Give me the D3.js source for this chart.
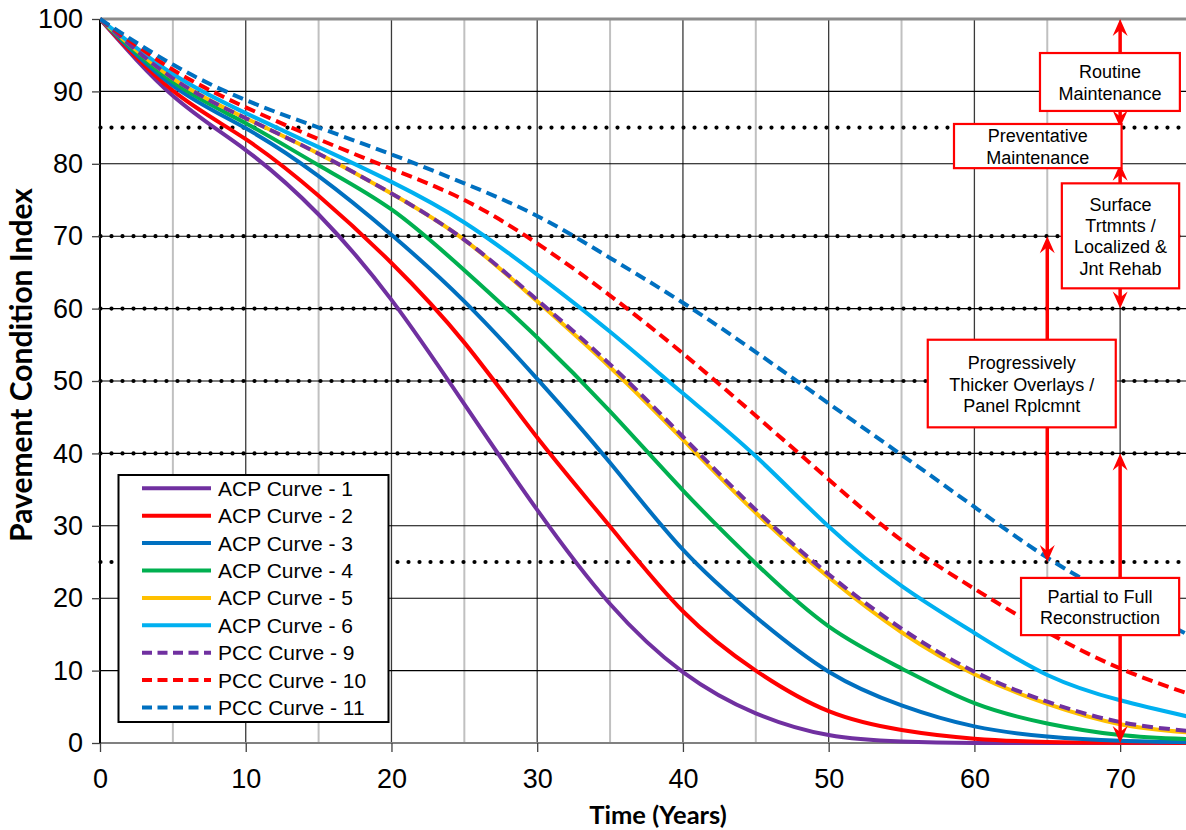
<!DOCTYPE html>
<html><head><meta charset="utf-8">
<script src="https://cdn.jsdelivr.net/npm/d3@7"></script>
<style>body{margin:0;background:#fff}svg{display:block}</style>
</head><body><svg id="c" width="1186" height="830"></svg>
<script>
// ---------- data ----------
const years = [0, 5, 10, 15, 20, 25, 30, 35, 40, 45, 50, 55, 60, 65, 70, 75];
const acp1  = [100, 89.4, 81.9, 73.0, 61.2, 46.8, 32.2, 19.2, 9.8, 4.1, 1.1, 0.2, 0.0, 0.0, 0.0, 0.0];
const acp2  = [100, 90.1, 83.4, 75.6, 66.3, 55.3, 42.2, 29.9, 18.2, 10.0, 4.4, 1.8, 0.6, 0.15, 0.05, 0.0];
const acp3  = [100, 90.8, 84.9, 78.3, 70.2, 61.0, 50.3, 38.7, 26.7, 17.4, 9.85, 5.2, 2.3, 0.9, 0.3, 0.1];
const acp4  = [100, 91.3, 85.6, 79.8, 73.7, 65.3, 56.0, 45.8, 34.9, 24.8, 16.1, 10.3, 5.5, 2.7, 1.1, 0.5];
const acp5  = [100, 91.8, 86.3, 81.4, 75.9, 69.5, 61.0, 51.9, 41.9, 31.8, 22.9, 15.3, 9.5, 5.4, 2.6, 1.4];
const acp6  = [100, 92.4, 87.0, 82.3, 77.5, 71.9, 64.7, 56.8, 48.3, 39.6, 29.9, 21.7, 15.2, 9.4, 5.9, 3.5];
const pcc9  = [100, 91.8, 86.3, 81.4, 75.9, 69.5, 61.2, 52.3, 42.3, 32.2, 23.3, 15.8, 9.85, 5.7, 2.9, 1.6];
const pcc10 = [100, 93.0, 87.8, 83.4, 79.3, 75.0, 69.0, 61.8, 53.8, 45.2, 36.4, 28.0, 21.3, 15.3, 10.3, 6.6];
const pcc11 = [100, 93.7, 88.8, 85.0, 81.3, 77.3, 72.8, 67.0, 60.8, 54.0, 46.9, 39.8, 32.6, 25.6, 19.8, 14.6];

const seriesNames = ["ACP Curve - 1", "ACP Curve - 2", "ACP Curve - 3", "ACP Curve - 4", "ACP Curve - 5",
                     "ACP Curve - 6", "PCC Curve - 9", "PCC Curve - 10", "PCC Curve - 11"];
const seriesValues = [acp1, acp2, acp3, acp4, acp5, acp6, pcc9, pcc10, pcc11];

const xTicks = [0, 10, 20, 30, 40, 50, 60, 70];
const xMinorGrid = [5, 15, 25, 35, 45, 55, 65];
const yTicks = [0, 10, 20, 30, 40, 50, 60, 70, 80, 90, 100];
const thresholdLevels = [85, 70, 60, 50, 40, 25];

const annoTexts = [
  ["Routine", "Maintenance"],
  ["Preventative", "Maintenance"],
  ["Surface", "Trtmnts /", "Localized &", "Jnt Rehab"],
  ["Progressively", "Thicker Overlays /", "Panel Rplcmnt"],
  ["Partial to Full", "Reconstruction"]
];
// arrows: year, from PCI, to PCI
const arrowYears = [70, 70, 65, 70];
const arrowFrom  = [100, 80, 70, 40];
const arrowTo    = [85, 60, 25, 0];

// ---------- styles / layout ----------
const seriesColors = ["#7030A0", "#FF0000", "#0070C0", "#00B050", "#FFC000", "#00B0F0", "#7030A0", "#FF0000", "#0070C0"];
const seriesDashed = [false, false, false, false, false, false, true, true, true];
// annotation boxes in data units: [year0, year1, pciTop, pciBottom]
const annoBoxes = [
  [64.5, 74.1, 95.3, 87.3],
  [58.6, 70.1, 85.5, 79.4],
  [66.0, 74.05, 77.3, 62.8],
  [56.8, 69.7, 55.7, 43.6],
  [63.2, 74.05, 22.8, 14.9]
];

const W = 1186, H = 830;
const pL = 100, pR = 1193, pT = 19, pB = 743;
const svg = d3.select("#c");
const x = d3.scaleLinear().domain([0, 75]).range([pL, pR]);
const y = d3.scaleLinear().domain([0, 100]).range([pB, pT]);

svg.append("defs").append("clipPath").attr("id", "clip")
  .append("rect").attr("x", pL).attr("y", pT - 5).attr("width", W - pL).attr("height", pB - pT + 7);

const g = svg.append("g");

g.selectAll(".vminor").data(xMinorGrid).enter().append("line")
  .attr("x1", d => x(d)).attr("x2", d => x(d)).attr("y1", pT).attr("y2", pB)
  .attr("stroke", "#c0c0c0").attr("stroke-width", 2);
g.selectAll(".vmajor").data(xTicks.filter(d => d > 0)).enter().append("line")
  .attr("x1", d => x(d)).attr("x2", d => x(d)).attr("y1", pT).attr("y2", pB)
  .attr("stroke", "#3a3a3a").attr("stroke-width", 1.3);
g.selectAll(".hgrid").data(yTicks.filter(d => d > 0 && d < 100)).enter().append("line")
  .attr("x1", pL).attr("x2", W).attr("y1", d => y(d)).attr("y2", d => y(d))
  .attr("stroke", "#000").attr("stroke-width", 1.1);
g.append("line").attr("x1", pL).attr("x2", W).attr("y1", y(100)).attr("y2", y(100))
  .attr("stroke", "#8c8c8c").attr("stroke-width", 3);

g.selectAll(".dot").data(thresholdLevels).enter().append("line")
  .attr("x1", pL + 0.5).attr("x2", W).attr("y1", d => y(d)).attr("y2", d => y(d))
  .attr("stroke", "#000").attr("stroke-width", 4.2).attr("stroke-linecap", "round")
  .attr("stroke-dasharray", "0 11");

const xAxis = d3.axisBottom(x).tickValues(xTicks).tickSize(9).tickPadding(17).tickFormat(d3.format("d"));
const gx = svg.append("g").attr("transform", `translate(0,${pB})`).call(xAxis);
gx.select(".domain").attr("stroke", "#808080").attr("stroke-width", 2.2).attr("d", `M${pL},0H${W}`);
gx.selectAll(".tick line").attr("stroke", "#404040").attr("stroke-width", 1.3);
gx.selectAll(".tick text").attr("font-family", "Liberation Sans, Arial, sans-serif").attr("font-size", 27).attr("fill", "#000");

const yAxis = d3.axisLeft(y).tickValues(yTicks).tickSize(8).tickPadding(9).tickFormat(d3.format("d"));
const gy = svg.append("g").attr("transform", `translate(${pL},0)`).call(yAxis);
gy.select(".domain").attr("stroke", "#000").attr("stroke-width", 2).attr("d", `M0,${pB}V${pT}`);
gy.selectAll(".tick line").attr("stroke", "#404040").attr("stroke-width", 1.3);
gy.selectAll(".tick text").attr("font-family", "Liberation Sans, Arial, sans-serif").attr("font-size", 27).attr("fill", "#000");

const lineGen = d3.line().x((d, i) => x(years[i])).y(d => y(d)).curve(d3.curveNatural);
const curves = svg.append("g").attr("clip-path", "url(#clip)");
seriesValues.forEach((vals, i) => {
  curves.append("path").attr("d", lineGen(vals)).attr("fill", "none")
    .attr("stroke", seriesColors[i]).attr("stroke-width", 4)
    .attr("stroke-dasharray", seriesDashed[i] ? "11 6" : null);
});

const ag = svg.append("g");
function head(xp, yp, dir) {
  const L = 17, Wd = 7.5, n = 11;
  return `M${xp},${yp}L${xp - Wd},${yp - dir * L}L${xp},${yp - dir * n}L${xp + Wd},${yp - dir * L}Z`;
}
arrowYears.forEach((t, i) => {
  const xp = x(t), y0 = y(arrowFrom[i]), y1 = y(arrowTo[i]);
  ag.append("line").attr("x1", xp).attr("x2", xp).attr("y1", y0 + 10).attr("y2", y1 - 10)
    .attr("stroke", "#FF0000").attr("stroke-width", 3.5);
  ag.append("path").attr("d", head(xp, y0, -1)).attr("fill", "#FF0000");
  ag.append("path").attr("d", head(xp, y1, 1)).attr("fill", "#FF0000");
});

annoBoxes.forEach((b, i) => {
  const x0 = x(b[0]), x1 = x(b[1]), y0 = y(b[2]), y1 = y(b[3]);
  const bg = svg.append("g");
  bg.append("rect").attr("x", x0).attr("y", y0).attr("width", x1 - x0).attr("height", y1 - y0)
    .attr("fill", "#fff").attr("stroke", "#FF0000").attr("stroke-width", 2.2);
  const cx = (x0 + x1) / 2, cy = (y0 + y1) / 2, lines = annoTexts[i], lh = 21.3;
  lines.forEach((t, k) => {
    bg.append("text").attr("x", cx).attr("y", cy + (k - (lines.length - 1) / 2) * lh + 7)
      .attr("text-anchor", "middle").attr("font-family", "Liberation Sans, Arial, sans-serif")
      .attr("font-size", 18).attr("fill", "#000").text(t);
  });
});

const lg = svg.append("g");
lg.append("rect").attr("x", 118.5).attr("y", 475).attr("width", 270).attr("height", 247)
  .attr("fill", "#fff").attr("stroke", "#000").attr("stroke-width", 2);
seriesNames.forEach((name, i) => {
  const yy = 488.3 + i * 27.4;
  lg.append("line").attr("x1", 142).attr("x2", 211).attr("y1", yy).attr("y2", yy)
    .attr("stroke", seriesColors[i]).attr("stroke-width", 4)
    .attr("stroke-dasharray", seriesDashed[i] ? "10 5.5" : null);
  lg.append("text").attr("x", 218).attr("y", yy + 7.5)
    .attr("font-family", "Liberation Sans, Arial, sans-serif").attr("font-size", 21).attr("fill", "#000").text(name);
});

svg.append("text").attr("x", 658).attr("y", 824).attr("text-anchor", "middle")
  .attr("font-family", "Lato, Carlito, sans-serif").attr("font-weight", "bold").attr("font-size", 25.5)
  .attr("fill", "#000").text("Time (Years)");
svg.append("text").attr("transform", `translate(32,365) rotate(-90)`).attr("text-anchor", "middle")
  .attr("font-family", "Lato, Carlito, sans-serif").attr("font-weight", "bold").attr("font-size", 30)
  .attr("fill", "#000").text("Pavement Condition Index");
</script></body></html>
